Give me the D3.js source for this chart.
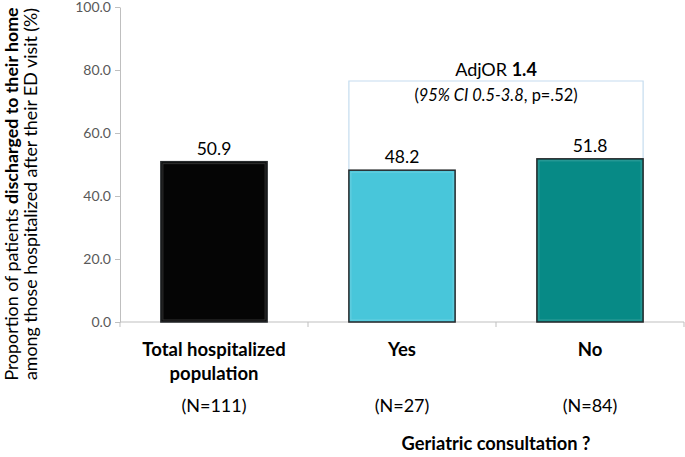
<!DOCTYPE html>
<html><head><meta charset="utf-8">
<script src="https://cdn.jsdelivr.net/npm/d3@7"></script>
<style>body{margin:0;background:#fff;} svg{display:block;font-family:Lato,"Open Sans",sans-serif;}</style>
</head><body><svg id="c" width="685" height="457"></svg>
<script>
const categories = ["Total hospitalized population", "Yes", "No"];
const categoryLines = [["Total hospitalized", "population"], ["Yes"], ["No"]];
const nLabels = ["(N=111)", "(N=27)", "(N=84)"];
const values = [50.9, 48.2, 51.8];
const barColors = ["#050505", "#48c6da", "#078a86"];
const yTicks = [0, 20, 40, 60, 80, 100];
const xTitle = "Geriatric consultation ?";
const annotation = {or: "1.4", ci: "95% CI 0.5-3.8", p: "p=.52"};

const svg = d3.select("#c");
const x = d3.scaleBand().domain(categories).range([120, 684]).paddingInner(0.435).paddingOuter(0.2175);
const y = d3.scaleLinear().domain([0, 100]).range([322, 7]);

// y axis
const ya = svg.append("g").attr("transform", "translate(120,0)")
  .call(d3.axisLeft(y).tickValues(yTicks).tickFormat(d3.format(".1f")).tickSize(5).tickSizeOuter(0));
ya.select(".domain").attr("stroke", "#bfbfbf");
ya.selectAll(".tick line").attr("stroke", "#bfbfbf");
ya.selectAll(".tick text").attr("fill", "#595959").style("font-size", "14px").attr("x", -9)
  .style("font-family", "Lato, sans-serif");

// x axis line + ticks at band boundaries
const r = x.range(), step = x.step();
svg.append("line").attr("x1", r[0]).attr("x2", r[1]).attr("y1", y(0)).attr("y2", y(0)).attr("stroke", "#bfbfbf");
d3.range(categories.length + 1).forEach(i => {
  const xx = r[0] + i * step;
  svg.append("line").attr("x1", xx).attr("x2", xx).attr("y1", y(0)).attr("y2", y(0) + 5).attr("stroke", "#bfbfbf");
});

// annotation box (between Yes and No bars)
const bx1 = x(categories[1]), bx2 = x(categories[2]) + x.bandwidth();
const boxTop = 81;
svg.append("path")
  .attr("d", `M${bx1},${y(values[1])}V${boxTop}H${bx2}V${y(values[2])}`)
  .attr("fill", "none").attr("stroke", "#c5dcef").attr("stroke-width", 1.2);

// bars
svg.selectAll("rect.bar").data(values).join("rect").attr("class", "bar")
  .attr("x", (d, i) => x(categories[i])).attr("width", x.bandwidth())
  .attr("y", d => y(d)).attr("height", d => y(0) - y(d))
  .attr("fill", (d, i) => barColors[i]).attr("stroke", "#26292b").attr("stroke-width", 1.5);
svg.selectAll("rect.hl").data(values).join("rect").attr("class", "hl")
  .attr("x", (d, i) => x(categories[i]) + 2).attr("width", x.bandwidth() - 4)
  .attr("y", d => y(d) + 2).attr("height", d => y(0) - y(d) - 4)
  .attr("fill", "none").attr("stroke", "rgba(255,255,255,0.18)").attr("stroke-width", 1);

// value labels
svg.selectAll("text.val").data(values).join("text").attr("class", "val")
  .attr("x", (d, i) => x(categories[i]) + x.bandwidth() / 2).attr("y", d => y(d) - 7)
  .attr("text-anchor", "middle").attr("fill", "#000").style("font-size", "17.5px")
  .text(d => d.toFixed(1));

// category labels
categoryLines.forEach((lines, i) => {
  const cx = x(categories[i]) + x.bandwidth() / 2;
  lines.forEach((t, j) => {
    svg.append("text").attr("x", cx).attr("y", 356 + j * 24).attr("text-anchor", "middle")
      .style("font-size", "18.5px").style("font-weight", "bold").attr("fill", "#000").text(t);
  });
  svg.append("text").attr("x", cx).attr("y", 412).attr("text-anchor", "middle")
    .style("font-size", "18px").attr("fill", "#000").text(nLabels[i]);
});

// x title
svg.append("text").attr("x", (x(categories[1]) + x(categories[2]) + x.bandwidth()) / 2 ).attr("y", 450)
  .attr("text-anchor", "middle").style("font-size", "18.3px").style("font-weight", "bold").text(xTitle);

// annotation text
const acx = (bx1 + bx2) / 2;
const t1 = svg.append("text").attr("x", acx).attr("y", 76).attr("text-anchor", "middle").style("font-size", "18px");
t1.append("tspan").text("AdjOR ");
t1.append("tspan").style("font-weight", "bold").text(annotation.or);
const t2 = svg.append("text").attr("x", acx).attr("y", 101).attr("text-anchor", "middle").style("font-size", "16.4px");
t2.append("tspan").text("(");
t2.append("tspan").style("font-style", "italic").text(annotation.ci);
t2.append("tspan").text(", " + annotation.p + ")");

// y title
const yt = svg.append("g").attr("transform", "translate(0,194) rotate(-90)");
const l1 = yt.append("text").attr("x", 0).attr("y", 18).attr("text-anchor", "middle").style("font-size", "17.8px").attr("fill", "#000");
l1.append("tspan").text("Proportion of patients ");
l1.append("tspan").style("font-weight", "bold").text("discharged to their home");
yt.append("text").attr("x", 0).attr("y", 37).attr("text-anchor", "middle").style("font-size", "17.8px").attr("fill", "#000")
  .text("among those hospitalized after their ED visit (%)");
</script></body></html>
